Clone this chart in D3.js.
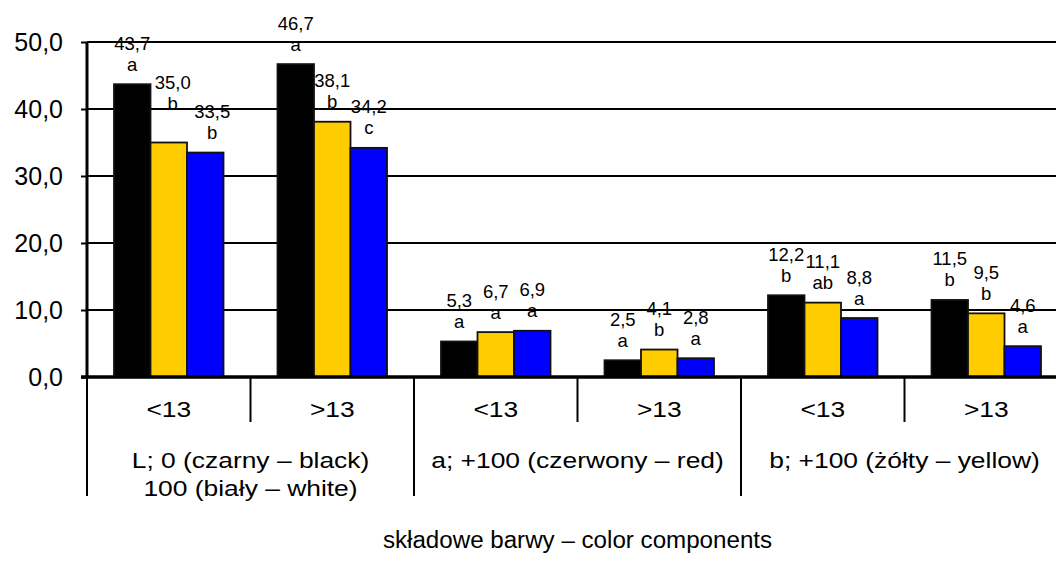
<!DOCTYPE html>
<html>
<head>
<meta charset="utf-8">
<script src="https://cdn.jsdelivr.net/npm/d3@7"></script>
<style>
  html, body { margin: 0; padding: 0; background: #fff; }
  svg { display: block; font-family: "Liberation Sans", Arial, sans-serif; }
</style>
</head>
<body>
<svg id="chart" width="1056" height="577"></svg>
<script>
// ---- data ----
const groups = ["L<13", "L>13", "a<13", "a>13", "b<13", "b>13"];
const groupLabels = ["<13", ">13", "<13", ">13", "<13", ">13"];
const componentLabels = [
  ["L; 0 (czarny – black)", "100 (biały – white)"],
  ["a; +100 (czerwony – red)"],
  ["b; +100 (żółty – yellow)"]
];
const seriesNames = ["s1", "s2", "s3"];
const seriesColors = ["#000000", "#FFCC00", "#0000FF"];
const s1 = [43.7, 46.7, 5.3, 2.5, 12.2, 11.5];
const s2 = [35.0, 38.1, 6.7, 4.1, 11.1, 9.5];
const s3 = [33.5, 34.2, 6.9, 2.8, 8.8, 4.6];
const s1Letters = ["a", "a", "a", "a", "b", "b"];
const s2Letters = ["b", "b", "a", "b", "ab", "b"];
const s3Letters = ["b", "c", "a", "a", "a", "a"];
const yTicks = [0, 10, 20, 30, 40, 50];
const axisTitle = "składowe barwy – color components";

const seriesValues = [s1, s2, s3];
const seriesLetters = [s1Letters, s2Letters, s3Letters];

// label nudges (style only): [seriesIndex, groupIndex, dx, dy]
const nudges = [[1, 0, 4, -19], [2, 0, 7, 0]];

// ---- layout ----
const svg = d3.select("#chart");
const mLeft = 87, mRight = 1068, mTop = 42, mBottom = 377;

const y = d3.scaleLinear().domain([0, 50]).range([mBottom, mTop]);
const x0 = d3.scaleBand().domain(groups).range([mLeft, mRight]).paddingInner(0).paddingOuter(0);
const x1 = d3.scaleBand().domain(seriesNames).range([27, x0.bandwidth() - 27]).padding(0);

const fmt = v => d3.format(".1f")(v).replace(".", ",");

function stretchedText(parent, x, yy, txt, size, sx) {
  return parent.append("text")
    .attr("transform", `translate(${x},${yy}) scale(${sx},1)`)
    .attr("text-anchor", "middle").attr("font-size", size).attr("fill", "#000")
    .text(txt);
}

// gridlines
svg.append("g").selectAll("line").data(yTicks.filter(t => t > 0)).join("line")
  .attr("x1", mLeft).attr("x2", mRight)
  .attr("y1", d => y(d)).attr("y2", d => y(d))
  .attr("stroke", "#000").attr("stroke-width", 2);

// bars
const data = [];
groups.forEach((g, gi) => seriesNames.forEach((s, si) => {
  data.push({ g, gi, s, si, v: seriesValues[si][gi], letter: seriesLetters[si][gi] });
}));

svg.append("g").selectAll("rect").data(data).join("rect")
  .attr("x", d => x0(d.g) + x1(d.s))
  .attr("y", d => y(d.v))
  .attr("width", x1.bandwidth())
  .attr("height", d => y(0) - y(d.v))
  .attr("fill", d => seriesColors[d.si])
  .attr("stroke", "#111").attr("stroke-width", 1.8);

// value labels
const lab = svg.append("g");
data.forEach(d => {
  const n = nudges.find(nn => nn[0] === d.si && nn[1] === d.gi);
  const dx = n ? n[2] : 0, dy = n ? n[3] : 0;
  const cx = x0(d.g) + x1(d.s) + x1.bandwidth() / 2 + dx;
  const ty = y(d.v) + dy;
  stretchedText(lab, cx, ty - 34.5, fmt(d.v), 18.5, 1.0);
  stretchedText(lab, cx, ty - 13.5, d.letter, 18.5, 1.0);
});

// y axis
const yAxis = d3.axisLeft(y).tickValues(yTicks).tickSize(6).tickPadding(18).tickFormat(fmt);
const ya = svg.append("g").attr("transform", `translate(${mLeft},0)`).call(yAxis);
ya.select(".domain").attr("stroke", "#000").attr("stroke-width", 3).attr("d", `M0,${mTop}V${mBottom}`);
ya.selectAll(".tick line").attr("stroke", "#000").attr("stroke-width", 2);
ya.selectAll(".tick text").attr("font-size", 25).attr("fill", "#000")
  .attr("font-family", "Liberation Sans, Arial, sans-serif").attr("dy", "0.35em");

// x axis baseline
svg.append("line").attr("x1", mLeft - 6).attr("x2", mRight).attr("y1", mBottom).attr("y2", mBottom)
  .attr("stroke", "#000").attr("stroke-width", 3.5);

// separators
const inner = [1, 3, 5].map(i => x0(groups[i]));
const outer = [0, 2, 4].map(i => x0(groups[i])).concat([mRight]);
svg.append("g").selectAll("line").data(inner).join("line")
  .attr("x1", d => d).attr("x2", d => d).attr("y1", mBottom).attr("y2", 422)
  .attr("stroke", "#000").attr("stroke-width", 2);
svg.append("g").selectAll("line").data(outer).join("line")
  .attr("x1", d => d).attr("x2", d => d).attr("y1", mBottom).attr("y2", 496)
  .attr("stroke", "#000").attr("stroke-width", 2);

// group labels
const gl = svg.append("g");
groups.forEach((g, i) => stretchedText(gl, x0(g) + x0.bandwidth() / 2, 417, groupLabels[i], 22, 1.2));

// component labels
componentLabels.forEach((lines, ci) => {
  const cx = x0(groups[ci * 2]) + x0.bandwidth();
  lines.forEach((t, li) => stretchedText(svg, cx, 468 + li * 28, t, 22, 1.2));
});

// axis title
stretchedText(svg, (mLeft + mRight) / 2, 548, axisTitle, 23, 1.05);
</script>
</body>
</html>
